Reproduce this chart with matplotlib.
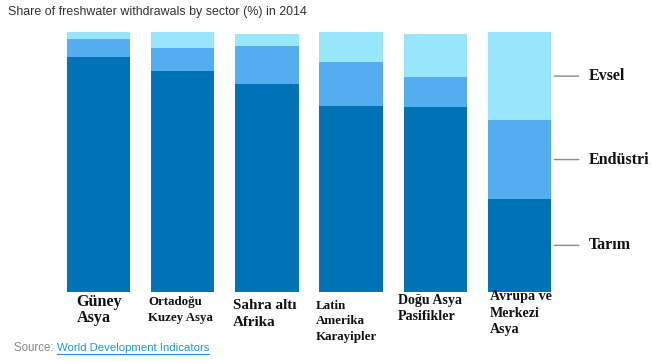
import matplotlib.pyplot as plt
import numpy as np

# data (% of freshwater withdrawals, 2014)
regions = ["Güney\nAsya", "Ortadoğu\nKuzey Asya", "Sahra altı\nAfrika",
           "Latin\nAmerika\nKarayipler", "Doğu Asya\nPasifikler", "Avrupa ve\nMerkezi\nAsya"]
tarim = [90.5, 85.1, 80.1, 71.7, 71.3, 35.6]
endustri = [6.9, 8.8, 14.5, 16.9, 11.6, 30.6]
evsel = [2.6, 6.2, 4.6, 11.5, 16.5, 33.8]
sector_names = ["Tarım", "Endüstri", "Evsel"]

colors = ["#0073b6", "#53aef0", "#98e6fc"]

# label layout (px offset from bar left edge, first baseline px, line pitch px, font size)
lab_dx = [10, -3, -2, -4, -6, 2]
lab_base = [305.5, 304.5, 309.3, 308.6, 304.3, 300.3]
lab_pitch = [16, 16, 16.7, 15.7, 15.7, 16.5]
lab_size = [11.6, 9.3, 10.9, 9.4, 10.1, 10.1]

W, H = 652, 362
fig = plt.figure(figsize=(W / 100, H / 100), dpi=100)
ax = fig.add_axes([56.2 / W, (H - 291.5) / H, 505.7 / W, 259.2 / H])

x = np.arange(len(regions))
bw = 0.753
bottom = np.zeros(len(regions))
for vals, c in zip([tarim, endustri, evsel], colors):
    ax.bar(x, vals, bw, bottom=bottom, color=c, linewidth=0)
    bottom += np.array(vals)

ax.set_xlim(-0.5, len(regions) - 0.5)
ax.set_ylim(0, 100)
ax.axis("off")

px = 84.3  # px per x unit
serif = ["Liberation Serif", "DejaVu Serif"]
for i, lab in enumerate(regions):
    xl = (i - bw / 2 + 0.5 + lab_dx[i] / px) * px + 56.2
    for j, line in enumerate(lab.split("\n")):
        yb = lab_base[i] + j * lab_pitch[i]
        fig.text(xl / W, 1 - yb / H, line, ha="left", va="baseline",
                 fontsize=lab_size[i], fontweight="bold", family=serif,
                 color="#111111")

# right side sector labels pointing to the last bar
last = len(regions) - 1
cum = 0
mids = []
for vals in [tarim, endustri, evsel]:
    mids.append(cum + vals[last] / 2)
    cum += vals[last]
for name, m in zip(sector_names, mids):
    ax.annotate("", xy=(last + bw / 2, m), xytext=(last + bw / 2 + 30 / px, m),
                arrowprops=dict(arrowstyle="-", color="#8a8a8a", lw=1),
                annotation_clip=False)
    ax.text(last + bw / 2 + 37 / px, m, name, ha="left", va="center", fontsize=11.5,
            fontweight="bold", family=serif, color="#111111")

fig.text(8 / W, 1 - 12 / H, "Share of freshwater withdrawals by sector (%) in 2014",
         ha="left", va="center", fontsize=8.9, family="Liberation Sans", color="#333333")
fig.text(14 / W, 1 - 348 / H, "Source: ", ha="left", va="center",
         fontsize=8.3, family="Liberation Sans", color="#888888")
fig.text(57 / W, 1 - 348 / H, "World Development Indicators", ha="left", va="center",
         fontsize=8.2, family="Liberation Sans", color="#1c98d6")
fig.add_artist(plt.Line2D([57 / W, 209 / W], [1 - 354 / H, 1 - 354 / H],
                          color="#1c98d6", lw=0.8))

fig.savefig("out.png", dpi=100)
